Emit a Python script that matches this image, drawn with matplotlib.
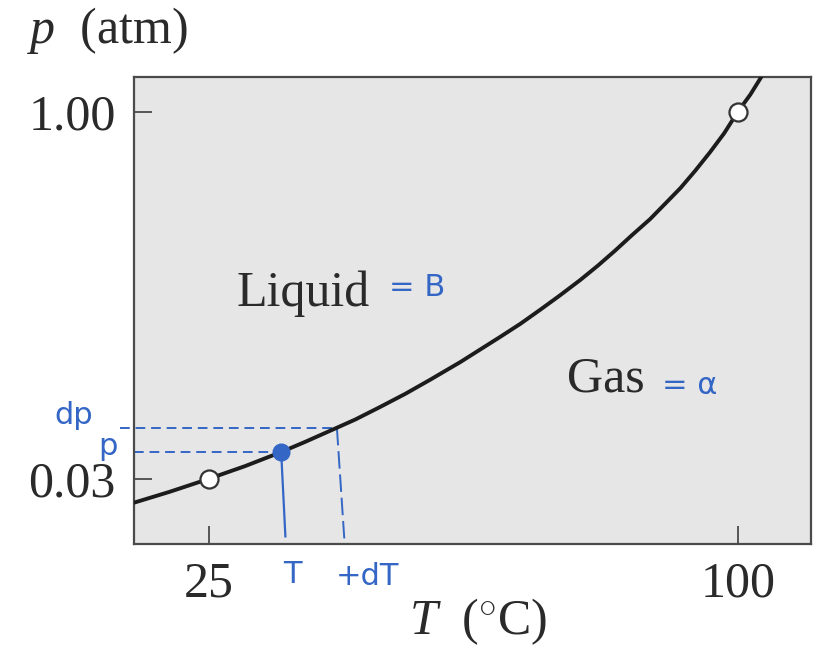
import matplotlib
matplotlib.use("Agg")
import matplotlib.pyplot as plt

plt.rcParams['mathtext.fontset'] = 'custom'
plt.rcParams['mathtext.rm'] = 'Liberation Serif'
plt.rcParams['mathtext.it'] = 'Liberation Serif:italic'
plt.rcParams['font.family'] = ['Liberation Serif', 'DejaVu Serif']

# ---- data (schematic vapour-pressure curve) ----
curve_T = [14.4, 19.5, 25.0, 30.2, 35.3, 38.7, 42.2, 45.8, 49.3, 52.9, 56.4,
           60.7, 66.3, 69.2, 72.0, 74.8, 77.7, 80.2, 82.6, 85.0, 87.6, 89.7,
           91.9, 94.0, 96.1, 98.1, 100.0, 101.8, 103.6]
curve_p = [-0.033, -0.004, 0.030, 0.064, 0.101, 0.128, 0.157, 0.187, 0.220,
           0.255, 0.292, 0.339, 0.405, 0.440, 0.477, 0.515, 0.556, 0.594,
           0.633, 0.674, 0.717, 0.757, 0.799, 0.845, 0.894, 0.944, 1.000,
           1.046, 1.100]
open_T = [25, 100]
open_p = [0.03, 1.00]
dot_T, dot_p = 35.3, 0.101          # (T, p)
dT_T, dT_p = 43.2, 0.165            # (T+dT, p+dp)
xticks = [25, 100]
xtick_labels = ['25', '100']
yticks = [0.03, 1.00]
ytick_labels = ['0.03', '1.00']
xlim = (14.44, 110.4)
ylim = (-0.142, 1.0925)

BLUE = '#3466c6'
TXT = '#2a2a2a'
W, H = 821, 650
fig = plt.figure(figsize=(W / 100, H / 100), dpi=100)
ax = fig.add_axes([134 / W, 1 - 544 / H, (811 - 134) / W, (544 - 77) / H])
ax.set_facecolor('#e6e6e6')
ax.set_xlim(*xlim)
ax.set_ylim(*ylim)
for s in ax.spines.values():
    s.set_color('#4a4a4a')
    s.set_linewidth(1.6)

ax.set_xticks(xticks)
ax.set_xticklabels(xtick_labels)
ax.set_yticks(yticks)
ax.set_yticklabels(ytick_labels)
ax.tick_params(axis='both', direction='in', length=13, width=1.3, color='#4a4a4a',
               labelsize=36, labelcolor=TXT)
ax.tick_params(axis='x', pad=12)
ax.tick_params(axis='y', pad=13)

# curve
ax.plot(curve_T, curve_p, color='#1c1c1c', lw=2.8, zorder=3,
        solid_joinstyle='round', solid_capstyle='butt')
ax.plot(open_T, open_p, 'o', ms=13, mfc='white', mec='#333333', mew=1.6, zorder=4,
        linestyle='none')

# hand-drawn annotations
ax.plot([xlim[0] - 2.0, dT_T], [dT_p, dT_p], color=BLUE, lw=1.4, ls=(0, (5, 3)),
        clip_on=False, zorder=2)
ax.plot([xlim[0], dot_T - 0.8], [dot_p, dot_p], color=BLUE, lw=1.4, ls=(0, (5, 3)),
        zorder=2)
ax.plot([dT_T, dT_T + 1.1], [dT_p, ylim[0]], color=BLUE, lw=1.4, ls=(0, (9, 3)),
        zorder=2)
ax.plot([dot_T, dot_T + 0.6], [dot_p, ylim[0] + 0.02], color=BLUE, lw=1.6, zorder=2)
ax.plot([dot_T], [dot_p], 'o', ms=12, color=BLUE, zorder=5)

ax.text(29.0, 0.487, 'Liquid', fontsize=36, color=TXT, va='baseline', ha='left')
ax.text(75.8, 0.260, 'Gas', fontsize=36, color=TXT, va='baseline', ha='left')


def px(x, y):
    return x / W, 1 - y / H


hand = dict(color=BLUE, family=['DejaVu Sans'], fontsize=22, va='baseline', ha='left')
fig.text(*px(389, 296), '= B', **hand)
fig.text(*px(662, 394), '= α', **hand)
fig.text(*px(54, 424), 'dp', **hand)
fig.text(*px(98, 455), 'p', **hand)
fig.text(*px(283, 583), 'T', **hand)
fig.text(*px(336, 585), '+dT', **hand)

fig.text(*px(27, 43), r'$p$  (atm)', fontsize=36, color=TXT,
         va='baseline', ha='left')
fig.text(*px(478, 634), r'$T$  ($^{\circ}$C)', fontsize=36, color=TXT,
         va='baseline', ha='center')

fig.savefig('out.png', dpi=100, facecolor='white')
